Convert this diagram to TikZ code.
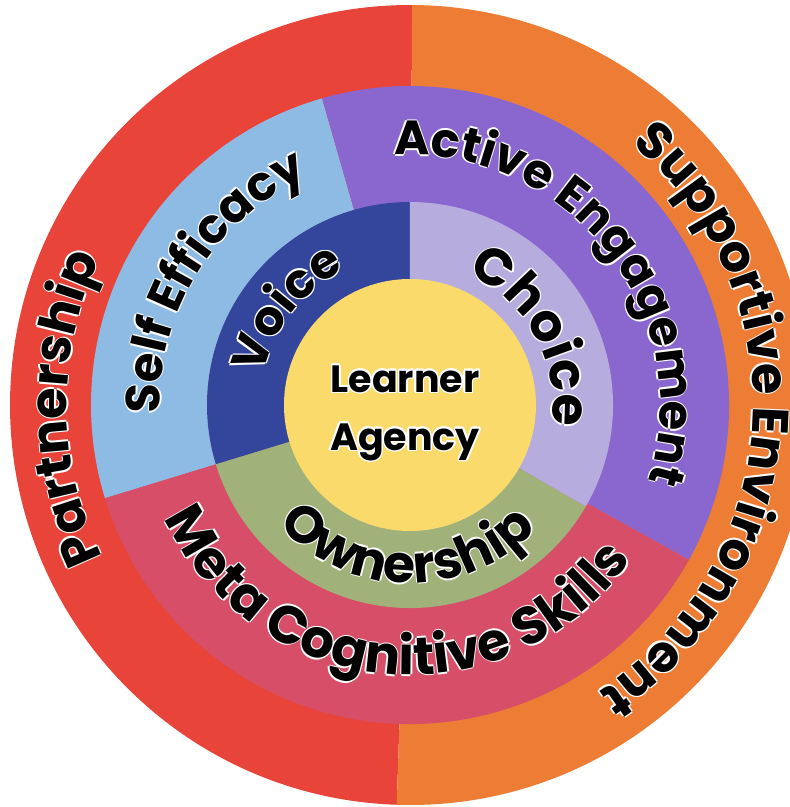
\documentclass[tikz,border=0pt]{standalone}
\usepackage{fontspec}
\setmainfont{Poppins}
\usepackage{contour}
\contourlength{1.5pt}
\usetikzlibrary{decorations.text}
\definecolor{partner}{HTML}{E9443A}
\definecolor{support}{HTML}{ED7D34}
\definecolor{efficacy}{HTML}{8EBBE4}
\definecolor{engage}{HTML}{8A67CE}
\definecolor{meta}{HTML}{D64E67}
\definecolor{voice}{HTML}{34469B}
\definecolor{choice}{HTML}{B7ACDE}
\definecolor{owner}{HTML}{A1B17A}
\definecolor{agency}{HTML}{FADA6B}
\newcommand{\outersize}{\fontsize{51}{51}\selectfont}
\newcommand{\midsize}{\fontsize{48}{48}\selectfont}
\newcommand{\metasize}{\fontsize{53}{53}\selectfont}
\newcommand{\innersize}{\fontsize{48}{48}\selectfont}
\newcommand{\choicesize}{\fontsize{52}{52}\selectfont}
\newcommand{\slice}[4]{\fill[#1] (0,0) -- (#2:#4) arc[start angle=#2,end angle=#3,radius=#4] -- cycle;}
\tikzset{
  ringtext/.style 2 args={
    postaction={decorate,decoration={text along path,text color=white,raise=0pt,
      text align={center,left indent=3pt,right indent=0pt},text={|\bfseries#1|#2}}},
    postaction={decorate,decoration={text along path,text color=white,raise=0pt,
      text align={center,left indent=0pt,right indent=3pt},text={|\bfseries#1|#2}}},
    postaction={decorate,decoration={text along path,text color=white,raise=1.5pt,
      text align={center,left indent=0pt,right indent=0pt},text={|\bfseries#1|#2}}},
    postaction={decorate,decoration={text along path,text color=white,raise=-1.5pt,
      text align={center,left indent=0pt,right indent=0pt},text={|\bfseries#1|#2}}},
    postaction={decorate,decoration={text along path,text color=black,raise=0pt,
      text align={center,left indent=0pt,right indent=0pt},text={|\bfseries#1|#2}}}}
}

\begin{document}
\begin{tikzpicture}[x=1pt,y=1pt]
    \useasboundingbox (-410,-402) rectangle (380,405);
    % outer ring
    \slice{partner}{89.7}{268.1}{400}
    \slice{support}{268.1}{449.7}{400}
    % middle ring
    \slice{efficacy}{106}{197}{319}
    \slice{meta}{197}{331}{319}
    \slice{engage}{331}{466}{319}
    % inner ring
    \slice{voice}{90}{197}{203}
    \slice{owner}{197}{330}{203}
    \slice{choice}{330}{450}{203}
    \fill[agency] (0,0) circle[radius=126];

    \path[ringtext={\outersize}{Partnership}] (250:343) arc[start angle=250,end angle=111,radius=343];
    \path[ringtext={\outersize}{Supportive Environment}] (86:343) arc[start angle=86,end angle=-93,radius=343];
    \path[ringtext={\midsize}{Self Efficacy}] (208:250) arc[start angle=208,end angle=88,radius=250];
    \path[ringtext={\midsize}{Active Engagement}] (108:250) arc[start angle=108,end angle=-32,radius=250];
    \path[ringtext={\metasize}{Meta Cognitive Skills}] (185:270) arc[start angle=185,end angle=345,radius=270];
    \path[ringtext={\innersize}{Voice}] (202:150) arc[start angle=202,end angle=82,radius=150];
    \path[ringtext={\choicesize}{Choice}] (89:143) arc[start angle=89,end angle=-31,radius=143];
    \path[ringtext={\choicesize}{Ownership}] (199:178) arc[start angle=199,end angle=339,radius=178];

    \draw node at (-5,13)[name=learner,anchor=base]{\fontsize{38}{38}\selectfont\bfseries\contour{white}{Learner}};
    \draw node at (-5,-45)[name=agencytext,anchor=base]{\fontsize{38}{38}\selectfont\bfseries\contour{white}{Agency}};
\end{tikzpicture}
\end{document}
